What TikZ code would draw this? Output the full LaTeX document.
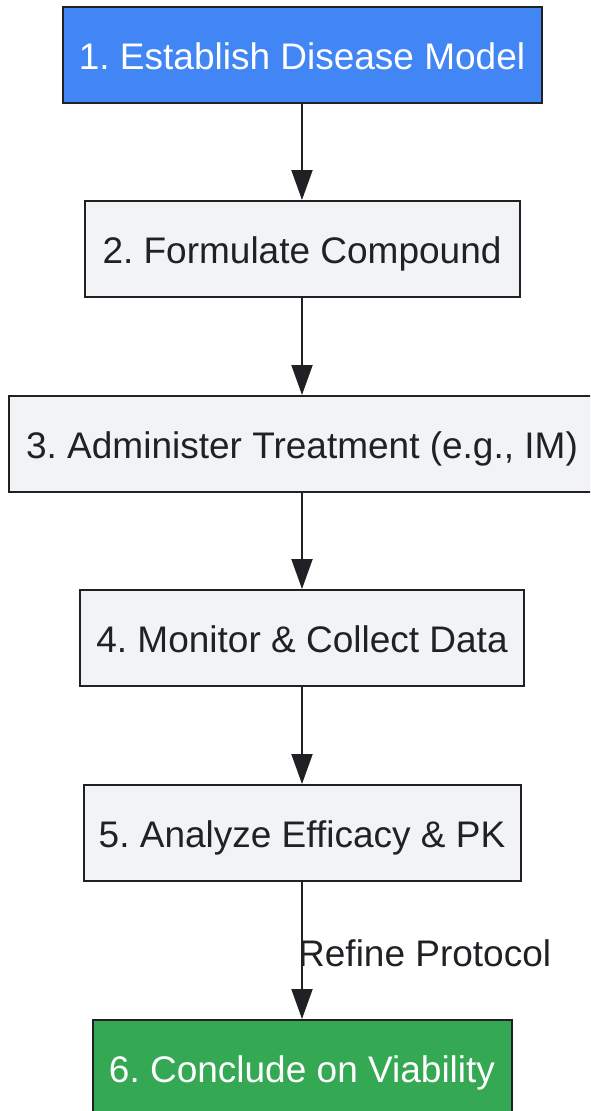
\documentclass[tikz,border=0pt]{standalone}
\usepackage{fontspec}
\setmainfont{Liberation Sans}
\usetikzlibrary{arrows.meta}
\definecolor{gblue}{HTML}{4285F4}
\definecolor{ggreen}{HTML}{34A853}
\definecolor{ggray}{HTML}{F1F3F4}
\definecolor{gdark}{HTML}{202124}
\frenchspacing
\tikzset{
  stepbox/.style={draw=gdark, line width=2pt, fill=ggray, text=gdark, minimum height=96pt,
    inner sep=0pt, text height=31pt, text depth=2pt, font=\fontsize{37}{44}\selectfont},
  bluebox/.style={stepbox, fill=gblue, text=white},
  greenbox/.style={stepbox, fill=ggreen, text=white},
  flow/.style={draw=gdark, line width=2pt, -{Triangle[length=30pt,width=21pt]}},
  lbl/.style={text=gdark, font=\fontsize{37}{44}\selectfont, inner sep=0pt, anchor=west}
}
\begin{document}
\begin{tikzpicture}[x=1pt,y=-1pt]
\useasboundingbox (0,0) rectangle (590,1111);
\begin{scope}
\clip (0,0) rectangle (590,1111);
\node[bluebox, minimum width=479pt] (n1) at (302,54.5) {1. Establish Disease Model};
\node[stepbox, minimum width=435pt] (n2) at (302,249) {2. Formulate Compound};
\node[stepbox, minimum width=586pt] (n3) at (302,444) {3. Administer Treatment (e.g., IM)};
\node[stepbox, minimum width=444pt] (n4) at (302,638) {4. Monitor \& Collect Data};
\node[stepbox, minimum width=437pt] (n5) at (302,833) {5. Analyze Efficacy \& PK};
\node[greenbox, minimum width=419pt] (n6) at (302,1068) {6. Conclude on Viability};
\draw[flow] (n1) -- (n2);
\draw[flow] (n2) -- (n3);
\draw[flow] (n3) -- (n4);
\draw[flow] (n4) -- (n5);
\draw[flow] (n5) -- (n6);
\node[lbl] (l56) at (298,953) {Refine Protocol};
\end{scope}
\end{tikzpicture}
\end{document}
